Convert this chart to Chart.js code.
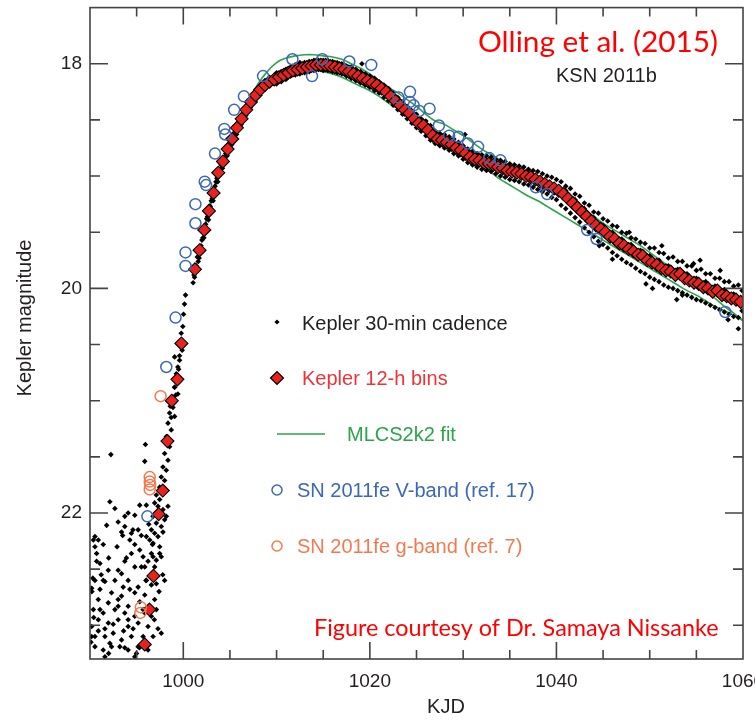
<!DOCTYPE html>
<html>
<head>
<meta charset="utf-8">
<script src="https://cdn.jsdelivr.net/npm/chart.js@4.4.1/dist/chart.umd.min.js"></script>
<style>
  html, body { margin: 0; padding: 0; background: #fff; }
  #wrap { width: 755px; height: 721px; }
</style>
</head>
<body>
<div id="wrap"><canvas id="lc" width="755" height="721"></canvas></div>
<script>
// Kepler 30-min cadence
const kepKJD = [
  // pre-explosion scatter
  992.24, 995.94, 995.87, 992.13, 992.67, 993.73, 993.02, 994.09, 994.80, 991.78, 995.33, 996.04,
  990.89, 991.42, 990.53, 994.27, 994.80, 995.33, 994.44, 995.69, 996.58, 997.11, 997.64, 990.71,
  991.07, 993.73, 994.80, 995.87, 996.93, 991.96, 993.02, 993.38, 990.53, 991.60, 992.67, 994.09,
  995.16, 996.58, 998.00, 991.07, 992.31, 993.38, 994.80, 995.87, 990.89, 991.96, 993.02, 994.09,
  995.33, 996.93, 990.36, 991.42, 992.67, 993.73, 994.80, 995.87, 997.11, 990.18, 990.89, 991.96,
  993.02, 994.09, 995.16, 996.22, 997.29, 990.53, 991.60, 992.49, 993.38, 994.44, 995.69, 996.76,
  997.64, 990.53, 991.42, 992.31, 993.20, 994.09, 994.98, 996.22, 991.60, 994.80,
  990.30, 990.20, 991.20, 992.00, 992.90, 993.50, 994.60, 995.50, 996.30, 996.70, 990.10, 990.40,
  992.00, 993.60, 995.30, 996.90, 997.40, 997.80, 996.00, 993.90,
  990.36, 990.53, 990.71, 991.42, 990.18, 991.07, 990.89, 990.18, 992.13, 993.73, 995.16, 994.62,
  995.51, 996.22, 996.76, 997.47, 996.04, 997.11, 994.27, 993.56, 993.02, 994.09, 992.49, 991.60,
  996.58, 995.69, 994.44, 995.16, 993.73, 993.38, 997.29, 997.82, 997.47, 996.76, 998.18, 998.36,
  996.76,
  // rising column
  999.07, 999.42, 998.89, 998.53, 999.07, 998.36, 998.71, 998.18, 998.53, 998.00, 998.36, 997.82,
  998.18, 997.64, 998.00, 997.47, 997.11, 997.47, 996.93, 997.29, 997.82, 998.00, 997.11, 997.64,
  996.58, 996.93, 996.04, 996.40, 999.20, 999.00, 998.70, 998.60, 998.90, 999.50, 999.60,
  1000.24, 1000.13, 1000.03, 999.95, 999.78, 999.88, 999.60, 999.07, 999.42, 999.25, 999.07, 998.90,
  // rise after the gap
  1001.05, 1001.15, 1001.40, 1001.50, 1001.60, 1001.90, 1002.00, 1002.10, 1002.40, 1002.50, 1002.60,
  1002.90, 1003.00, 1003.10, 1003.40, 1003.50, 1003.60, 1003.95, 1004.05, 1004.40, 1004.55, 1004.90,
  1005.00, 1005.40, 1005.50, 1005.90, 1006.00, 1006.40, 1006.50, 1006.90, 1007.00, 1007.40, 1007.60,
  1007.90, 1008.10, 1008.50, 1008.90, 1009.40, 1009.90,
  1001.2, 1001.7, 1002.2, 1002.7, 1003.2, 1003.7, 1004.2, 1004.7, 1005.2, 1005.7, 1006.2, 1006.7, 1007.2,
  // peak and decline
  1010, 1010, 1010.5, 1010.5, 1011, 1011, 1011.5, 1011.5, 1012, 1012, 1012.5, 1012.5, 1013, 1013,
  1013.5, 1013.5, 1014, 1014, 1014.5, 1014.5, 1015, 1015, 1015.5, 1015.5, 1016, 1016, 1016.5, 1016.5,
  1017, 1017, 1017.5, 1017.5, 1018, 1018, 1018.5, 1018.5, 1019, 1019, 1019.15, 1019.5, 1019.5,
  1020, 1020, 1020.5, 1020.5, 1021, 1021, 1021.5, 1021.5, 1022, 1022, 1022.5, 1022.5, 1023, 1023,
  1023.5, 1023.5, 1024, 1024, 1024.5, 1024.5, 1025, 1025, 1025.5, 1025.5, 1026, 1026, 1026.5, 1026.5,
  1027, 1027, 1027.5, 1027.5, 1028, 1028, 1028.5, 1028.5, 1029, 1029, 1029.5, 1029.5, 1030, 1030,
  1030.2, 1030.5, 1030.5, 1031, 1031, 1031.5, 1031.5, 1032, 1032, 1032.5, 1032.5, 1033, 1033,
  1033.5, 1033.5, 1034, 1034, 1034.5, 1034.5, 1035, 1035, 1035.5, 1035.5, 1036, 1036, 1036.5, 1036.5,
  1037, 1037, 1037.5, 1037.5, 1038, 1038, 1038.5, 1038.5, 1039, 1039, 1039.5, 1039.5, 1040, 1040,
  // late tail, wider scatter
  1040.5, 1040.5, 1041, 1041, 1041, 1041.5, 1041.5, 1042, 1042, 1042, 1042.5, 1042.5, 1043, 1043, 1043,
  1043.5, 1043.5, 1044, 1044, 1044, 1044.5, 1044.5, 1045, 1045, 1045, 1045.5, 1045.5, 1046, 1046, 1046,
  1046.5, 1046.5, 1047, 1047, 1047, 1047.5, 1047.5, 1048, 1048, 1048, 1048.5, 1048.5, 1049, 1049, 1049,
  1049.5, 1049.5, 1050, 1050, 1050, 1050.5, 1050.5, 1051, 1051, 1051, 1051.5, 1051.5, 1052, 1052, 1052,
  1052.5, 1052.5, 1053, 1053, 1053, 1053.5, 1053.5, 1054, 1054, 1054, 1054.5, 1054.5, 1055, 1055, 1055,
  1055.5, 1055.5, 1056, 1056, 1056, 1056.5, 1056.5, 1057, 1057, 1057, 1057.5, 1057.5, 1058, 1058, 1058,
  1058.5, 1058.5, 1059, 1059, 1059, 1059.5, 1059.5, 1059.9, 1059.9,
  1055.4, 1054.7, 1049.6, 1050.3, 1052.9, 1053.5, 1058.4, 1059.5, 1057.55, 1046.0, 1047.8, 1044.6, 1051.3
];
const kepMag = [
  21.48, 21.39, 21.54, 21.90, 21.96, 22.03, 22.08, 22.00, 22.02, 22.11, 21.93, 21.93,
  22.24, 22.28, 22.21, 22.24, 22.28, 22.33, 22.36, 22.39, 22.36, 22.42, 22.39, 22.36,
  22.45, 22.43, 22.48, 22.48, 22.48, 22.51, 22.51, 22.54, 22.60, 22.61, 22.60, 22.60,
  22.66, 22.64, 22.60, 22.68, 22.71, 22.74, 22.71, 22.73, 22.77, 22.80, 22.77, 22.83,
  22.79, 22.77, 22.86, 22.89, 22.86, 22.89, 22.92, 22.89, 22.86, 23.01, 22.95, 22.98,
  22.95, 23.01, 22.98, 23.01, 23.03, 23.10, 23.10, 23.07, 23.13, 23.10, 23.10, 23.10,
  23.07, 23.19, 23.22, 23.19, 23.19, 23.22, 23.25, 23.22, 23.28, 23.28,
  22.58, 22.70, 22.55, 22.40, 22.30, 22.20, 22.15, 22.20, 22.10, 22.28, 23.15, 22.93,
  23.25, 23.05, 23.20, 22.95, 22.70, 22.55, 22.60, 22.40,
  22.24, 22.30, 22.43, 22.60, 22.67, 22.86, 23.05, 23.10, 23.16, 23.20, 23.19, 23.03,
  22.48, 22.43, 22.39, 22.36, 22.60, 22.63, 22.68, 22.66, 22.83, 22.95, 22.99, 23.03,
  22.92, 22.86, 22.18, 22.15, 22.12, 22.17, 22.21, 22.17, 22.30, 22.27, 22.03, 21.94,
  22.03,
  20.88, 20.94, 21.06, 21.11, 21.14, 21.20, 21.26, 21.32, 21.41, 21.47, 21.53, 21.59,
  21.62, 21.68, 21.71, 21.77, 21.84, 21.88, 21.91, 21.94, 21.97, 22.06, 22.09, 22.12,
  22.15, 22.18, 22.21, 22.24, 20.95, 21.02, 21.15, 21.05, 20.99, 20.72, 20.64,
  20.06, 20.14, 20.23, 20.34, 20.40, 20.55, 20.60, 20.61, 20.70, 20.76, 20.88, 20.97,
  19.95, 19.88, 19.80, 19.72, 19.76, 19.62, 19.57, 19.55, 19.43, 19.38, 19.36,
  19.27, 19.22, 19.20, 19.09, 19.05, 19.02, 18.94, 18.90, 18.84, 18.80, 18.73,
  18.71, 18.64, 18.61, 18.55, 18.53, 18.47, 18.45, 18.39, 18.37, 18.32, 18.30,
  18.27, 18.25, 18.22, 18.19, 18.16, 18.14,
  19.90, 19.73, 19.55, 19.39, 19.22, 19.05, 18.93, 18.82, 18.72, 18.63, 18.54, 18.46, 18.39,
  18.08, 18.18, 18.07, 18.16, 18.05, 18.14, 18.03, 18.11, 18.01, 18.10, 17.99, 18.09, 17.99, 18.08,
  17.98, 18.07, 17.97, 18.06, 17.97, 18.05, 17.97, 18.06, 17.97, 18.06, 17.98, 18.07, 17.99, 18.08,
  18.00, 18.09, 18.02, 18.11, 18.03, 18.13, 18.05, 18.15, 18.07, 18.17, 18.00, 18.09, 18.19,
  18.11, 18.21, 18.13, 18.24, 18.16, 18.26, 18.19, 18.30, 18.22, 18.33, 18.26, 18.37, 18.30, 18.41,
  18.34, 18.45, 18.38, 18.49, 18.42, 18.53, 18.45, 18.57, 18.49, 18.60, 18.51, 18.64, 18.55, 18.68,
  18.60, 18.71, 18.62, 18.73, 18.63, 18.75, 18.65, 18.77, 18.67, 18.80, 18.70, 18.82, 18.73, 18.85,
  18.63, 18.76, 18.88, 18.78, 18.90, 18.80, 18.92, 18.81, 18.94, 18.82, 18.95, 18.83, 18.96,
  18.85, 18.98, 18.86, 19.00, 18.87, 19.01, 18.89, 19.03, 18.90, 19.04, 18.91, 19.05, 18.92, 19.07,
  18.94, 19.08, 18.95, 19.10, 18.96, 19.12, 18.98, 19.14, 19.00, 19.16, 19.01, 19.19, 19.03, 19.21,
  19.05, 19.26, 19.09, 19.29, 19.13, 19.11, 19.33, 19.16, 19.37, 19.21, 19.18, 19.41, 19.24, 19.46, 19.29,
  19.26, 19.50, 19.32, 19.54, 19.37, 19.33, 19.58, 19.38, 19.61, 19.44, 19.40, 19.64, 19.44, 19.68, 19.50,
  19.45, 19.71, 19.50, 19.74, 19.56, 19.51, 19.77, 19.55, 19.79, 19.61, 19.56, 19.82, 19.59, 19.85, 19.66,
  19.60, 19.87, 19.64, 19.90, 19.71, 19.64, 19.92, 19.68, 19.94, 19.75, 19.69, 19.97, 19.73, 19.99, 19.80,
  19.72, 20.00, 19.76, 20.02, 19.83, 19.76, 20.04, 19.80, 20.06, 19.87, 19.80, 20.08, 19.84, 20.10, 19.91,
  19.83, 20.11, 19.87, 20.13, 19.94, 19.87, 20.15, 19.91, 20.17, 19.98, 19.91, 20.19, 19.94, 20.21, 20.01,
  19.94, 20.23, 19.98, 20.25, 20.05, 19.97, 20.26, 20.02, 20.20,
  19.75, 19.78, 19.96, 20.00, 20.10, 20.06, 20.28, 20.36, 19.84, 19.74, 19.50, 19.62, 19.62
];

// Kepler 12-h bins
const binKJD = [
  995.87, 996.37, 996.80, 997.36, 997.80, 998.30, 998.77, 999.37, 999.80,
  1001.25, 1001.75, 1002.25, 1002.75, 1003.25, 1003.75, 1004.25, 1004.75, 1005.25, 1005.75,
  1006.25, 1006.75, 1007.25, 1007.75, 1008.25, 1008.75, 1009.25, 1009.75, 1010.25, 1010.75,
  1011.25, 1011.75, 1012.25, 1012.75, 1013.25, 1013.75, 1014.25, 1014.75, 1015.25, 1015.75,
  1016.25, 1016.75, 1017.25, 1017.75, 1018.25, 1018.75, 1019.25, 1019.75, 1020.25, 1020.75,
  1021.25, 1021.75, 1022.25, 1022.75, 1023.25, 1023.75, 1024.25, 1024.75, 1025.25, 1025.75,
  1026.25, 1026.75, 1027.25, 1027.75, 1028.25, 1028.75, 1029.25, 1029.75, 1030.25, 1030.75,
  1031.25, 1031.75, 1032.25, 1032.75, 1033.25, 1033.75, 1034.25, 1034.75, 1035.25, 1035.75,
  1036.25, 1036.75, 1037.25, 1037.75, 1038.25, 1038.75, 1039.25, 1039.75, 1040.25, 1040.75,
  1041.25, 1041.75, 1042.25, 1042.75, 1043.25, 1043.75, 1044.25, 1044.75, 1045.25, 1045.75,
  1046.25, 1046.75, 1047.25, 1047.75, 1048.25, 1048.75, 1049.25, 1049.75, 1050.25, 1050.75,
  1051.25, 1051.75, 1052.25, 1052.75, 1053.25, 1053.75, 1054.25, 1054.75, 1055.25, 1055.75,
  1056.25, 1056.75, 1057.25, 1057.75, 1058.25, 1058.75, 1059.25, 1059.75
];
const binMag = [
  23.17, 22.86, 22.56, 22.01, 21.80, 21.36, 21.00, 20.81, 20.49,
  19.83, 19.66, 19.48, 19.31, 19.15, 18.97, 18.87, 18.76, 18.67, 18.57,
  18.49, 18.41, 18.34, 18.28, 18.23, 18.19, 18.16, 18.14, 18.12, 18.10,
  18.08, 18.06, 18.05, 18.04, 18.03, 18.02, 18.01, 18.01, 18.01, 18.02,
  18.03, 18.04, 18.05, 18.07, 18.09, 18.11, 18.13, 18.15, 18.17, 18.19,
  18.22, 18.25, 18.29, 18.33, 18.37, 18.41, 18.44, 18.49, 18.53, 18.55,
  18.59, 18.64, 18.67, 18.68, 18.70, 18.72, 18.75, 18.77, 18.80, 18.83,
  18.85, 18.86, 18.88, 18.89, 18.90, 18.92, 18.93, 18.95, 18.96, 18.97,
  18.98, 19.00, 19.01, 19.03, 19.05, 19.07, 19.09, 19.11, 19.13, 19.16,
  19.20, 19.24, 19.28, 19.32, 19.36, 19.40, 19.44, 19.47, 19.50, 19.54,
  19.56, 19.60, 19.62, 19.65, 19.67, 19.70, 19.71, 19.75, 19.77, 19.79,
  19.82, 19.84, 19.85, 19.88, 19.87, 19.91, 19.93, 19.95, 19.96, 19.99,
  20.00, 20.03, 20.02, 20.06, 20.07, 20.09, 20.10, 20.12
];

// MLCS2k2 fit (two curves)
const fitKJD = [
  1002.3, 1003, 1004, 1005, 1006, 1007, 1008, 1009, 1010, 1011, 1012, 1013, 1014, 1015, 1016,
  1017, 1018, 1019, 1020, 1021, 1022, 1023, 1024, 1025, 1026, 1027, 1028, 1029, 1030, 1031,
  1032, 1033, 1034, 1035, 1036, 1037, 1038, 1039, 1040, 1041, 1042, 1043, 1044, 1045, 1046,
  1047, 1048, 1049, 1050, 1051, 1052, 1053, 1054, 1055, 1056, 1057, 1058, 1059, 1060
];
const fitUpperMag = [
  19.44, 19.20, 18.92, 18.70, 18.52, 18.33, 18.18, 18.07, 17.99, 17.95, 17.93, 17.92, 17.92, 17.93, 17.94,
  17.96, 18.00, 18.04, 18.09, 18.15, 18.21, 18.26, 18.32, 18.38, 18.45, 18.51, 18.54, 18.59, 18.64, 18.70,
  18.76, 18.81, 18.86, 18.91, 18.96, 19.00, 19.05, 19.11, 19.16, 19.21, 19.25, 19.30, 19.36, 19.42, 19.47,
  19.52, 19.57, 19.62, 19.68, 19.74, 19.80, 19.86, 19.92, 19.97, 20.03, 20.09, 20.16, 20.22, 20.29
];
const fitLowerMag = [
  19.47, 19.23, 18.95, 18.74, 18.57, 18.43, 18.31, 18.21, 18.13, 18.09, 18.07, 18.06, 18.06, 18.07, 18.09,
  18.12, 18.16, 18.20, 18.24, 18.29, 18.35, 18.40, 18.46, 18.52, 18.58, 18.63, 18.69, 18.75, 18.81, 18.86,
  18.92, 18.97, 19.03, 19.08, 19.13, 19.18, 19.22, 19.27, 19.32, 19.37, 19.42, 19.47, 19.52, 19.57, 19.62,
  19.67, 19.72, 19.77, 19.82, 19.87, 19.92, 19.97, 20.02, 20.06, 20.11, 20.16, 20.20, 20.24, 20.28
];

// SN 2011fe V-band (ref. 17)
const vKJD = [
  996.15, 998.18, 999.17, 1000.24, 1000.24, 1001.3, 1001.3, 1002.3, 1002.45, 1003.4, 1004.4, 1004.5,
  1005.45, 1006.5, 1008.55, 1011.7, 1013.8, 1014.9, 1017.8, 1020.15, 1023.07, 1024.3, 1024.3, 1024.7,
  1025.3, 1026.4, 1027.4, 1028.5, 1029.5, 1030.5, 1031.6, 1032.8, 1034.0, 1037.8, 1039.0, 1043.3,
  1044.3, 1058.1
];
const vMag = [
  22.03, 20.70, 20.26, 19.68, 19.80, 19.25, 19.42, 19.05, 19.08, 18.80, 18.58, 18.63,
  18.41, 18.29, 18.11, 17.96, 18.11, 17.96, 17.98, 18.01, 18.30, 18.25, 18.34, 18.37,
  18.42, 18.40, 18.55, 18.64, 18.65, 18.71, 18.74, 18.84, 18.86, 19.10, 19.16, 19.48,
  19.56, 20.21
];

// SN 2011fe g-band (ref. 7)
const gKJD = [997.57, 996.40, 996.40, 996.45, 996.40, 995.45, 995.40];
const gMag = [20.96, 21.68, 21.72, 21.75, 21.79, 22.84, 22.89];

const xMajorTicks = [1000, 1020, 1040, 1060];
const yMajorTicks = [18, 20, 22];

const pts = (xs, ys) => xs.map((v, i) => ({ x: v, y: ys[i] }));
const isMajor = (v, list) => list.some(m => Math.abs(m - v) < 1e-6);
const INK = '#231f20';
const AXIS = '#444';

const framePlugin = {
  id: 'frame',
  afterDraw(chart) {
    const { ctx, chartArea: a, scales: { x, y } } = chart;
    ctx.save();
    ctx.strokeStyle = AXIS;
    ctx.lineWidth = 1.6;
    ctx.strokeRect(a.left, a.top, a.right - a.left, a.bottom - a.top);
    ctx.beginPath();
    x.ticks.forEach(t => {
      const px = x.getPixelForValue(t.value);
      if (px <= a.left + 1 || px >= a.right - 1) return;
      if (Math.abs(t.value / 5 - Math.round(t.value / 5)) > 1e-6) return;
      const len = isMajor(t.value, xMajorTicks) ? 17 : 9;
      ctx.moveTo(px, a.bottom); ctx.lineTo(px, a.bottom - len);
      ctx.moveTo(px, a.top); ctx.lineTo(px, a.top + len);
    });
    y.ticks.forEach(t => {
      const py = y.getPixelForValue(t.value);
      if (py <= a.top + 1 || py >= a.bottom - 1) return;
      if (Math.abs(t.value * 2 - Math.round(t.value * 2)) > 1e-6) return;
      const len = isMajor(t.value, yMajorTicks) ? 18 : 10;
      ctx.moveTo(a.left, py); ctx.lineTo(a.left + len, py);
      ctx.moveTo(a.right, py); ctx.lineTo(a.right - len, py);
    });
    ctx.stroke();

    // axis titles
    ctx.fillStyle = INK;
    ctx.font = '20px "Liberation Sans", Arial, sans-serif';
    ctx.textAlign = 'center';
    ctx.textBaseline = 'middle';
    ctx.fillText('KJD', 446, 707);
    ctx.save();
    ctx.translate(25, 318);
    ctx.rotate(-Math.PI / 2);
    ctx.fillText('Kepler magnitude', 0, 0);
    ctx.restore();

    // legend
    ctx.textAlign = 'left';
    ctx.font = '20px "Liberation Sans", Arial, sans-serif';
    const lx = 277;
    ctx.fillStyle = '#000';
    ctx.beginPath();
    ctx.moveTo(lx - 2.6, 322); ctx.lineTo(lx, 319.4); ctx.lineTo(lx + 2.6, 322); ctx.lineTo(lx, 324.6);
    ctx.closePath(); ctx.fill();
    ctx.fillStyle = INK;
    ctx.fillText('Kepler 30-min cadence', 302, 324);
    ctx.beginPath();
    ctx.moveTo(lx - 6.5, 378); ctx.lineTo(lx, 371.5); ctx.lineTo(lx + 6.5, 378); ctx.lineTo(lx, 384.5);
    ctx.closePath();
    ctx.fillStyle = '#e8231d'; ctx.fill();
    ctx.lineWidth = 1.2; ctx.strokeStyle = '#000'; ctx.stroke();
    ctx.fillStyle = '#ee3338';
    ctx.fillText('Kepler 12-h bins', 302, 379);
    ctx.strokeStyle = '#2ca44a'; ctx.lineWidth = 1.6;
    ctx.beginPath(); ctx.moveTo(277, 434); ctx.lineTo(325, 434); ctx.stroke();
    ctx.fillStyle = '#2ca44a';
    ctx.fillText('MLCS2k2 fit', 347, 435);
    ctx.strokeStyle = '#3b68b6'; ctx.lineWidth = 1.5;
    ctx.beginPath(); ctx.arc(lx, 490, 5, 0, Math.PI * 2); ctx.stroke();
    ctx.fillStyle = '#3b68b6';
    ctx.fillText('SN 2011fe V-band (ref. 17)', 297, 491);
    ctx.strokeStyle = '#f37a50';
    ctx.beginPath(); ctx.arc(lx, 546, 5, 0, Math.PI * 2); ctx.stroke();
    ctx.fillStyle = '#f37a50';
    ctx.fillText('SN 2011fe g-band (ref. 7)', 297, 547);

    // annotations
    const fit = (text, family, width) => {
      ctx.font = '100px ' + family;
      return 100 * width / ctx.measureText(text).width;
    };
    const calib = 'Lato, "Open Sans", sans-serif';
    let s = fit('Olling et al. (2015)', calib, 240);
    ctx.font = s.toFixed(1) + 'px ' + calib;
    ctx.fillStyle = '#ff0000';
    ctx.fillText('Olling et al. (2015)', 478, 42);
    s = fit('Figure courtesy of Dr. Samaya Nissanke', calib, 404);
    ctx.font = s.toFixed(1) + 'px ' + calib;
    ctx.fillText('Figure courtesy of Dr. Samaya Nissanke', 314, 628);
    ctx.fillStyle = INK;
    ctx.font = '20px "Liberation Sans", Arial, sans-serif';
    ctx.fillText('KSN 2011b', 556, 76);
    ctx.restore();
  }
};

const tickFont = { family: '"Liberation Sans", Arial, sans-serif', size: 19 };

new Chart(document.getElementById('lc'), {
  type: 'scatter',
  data: {
    datasets: [
      {
        label: 'SN 2011fe g-band (ref. 7)',
        data: pts(gKJD, gMag),
        pointStyle: 'circle', pointRadius: 5.5,
        backgroundColor: 'rgba(0,0,0,0)', borderColor: '#f37a50', borderWidth: 1.5,
        order: 0
      },
      {
        label: 'SN 2011fe V-band (ref. 17)',
        data: pts(vKJD, vMag),
        pointStyle: 'circle', pointRadius: 5.5,
        backgroundColor: 'rgba(0,0,0,0)', borderColor: '#3b68b6', borderWidth: 1.5,
        order: 1
      },
      {
        label: 'Kepler 12-h bins',
        data: pts(binKJD, binMag),
        pointStyle: 'rectRot', pointRadius: 6.5,
        backgroundColor: '#e8231d', borderColor: '#000', borderWidth: 1.1,
        order: 2
      },
      {
        label: 'Kepler 30-min cadence',
        data: pts(kepKJD, kepMag),
        pointStyle: 'rectRot', pointRadius: 2.8,
        backgroundColor: '#000', borderColor: '#000', borderWidth: 0,
        order: 3
      },
      {
        label: 'MLCS2k2 fit',
        data: pts(fitKJD, fitUpperMag),
        showLine: true, pointRadius: 0, borderColor: '#2ca44a', borderWidth: 1.6,
        tension: 0.4, order: 4
      },
      {
        label: 'MLCS2k2 fit (lower)',
        data: pts(fitKJD, fitLowerMag),
        showLine: true, pointRadius: 0, borderColor: '#2ca44a', borderWidth: 1.6,
        tension: 0.4, order: 5
      }
    ]
  },
  options: {
    responsive: false,
    animation: false,
    devicePixelRatio: 1,
    layout: { padding: { top: 7, right: 12, left: 0, bottom: 0 } },
    plugins: { legend: { display: false }, tooltip: { enabled: false } },
    scales: {
      x: {
        type: 'linear', min: 990, max: 1060,
        grid: { display: false, drawTicks: false },
        border: { display: false },
        ticks: {
          stepSize: 5, padding: 11, color: INK, font: tickFont, maxRotation: 0, autoSkip: false,
          callback: v => isMajor(v, xMajorTicks) ? String(v) : ''
        },
        afterFit: s => { s.height = 62; s.paddingLeft = 0; s.paddingRight = 0; }
      },
      y: {
        type: 'linear', min: 17.5, max: 23.3, reverse: true,
        grid: { display: false, drawTicks: false },
        border: { display: false },
        ticks: {
          stepSize: 0.5, padding: 8, color: INK, font: tickFont, autoSkip: false,
          callback: v => isMajor(v, yMajorTicks) ? String(v) : ''
        },
        afterFit: s => { s.width = 90; s.paddingTop = 0; s.paddingBottom = 0; }
      }
    }
  },
  plugins: [framePlugin]
});
</script>
</body>
</html>
